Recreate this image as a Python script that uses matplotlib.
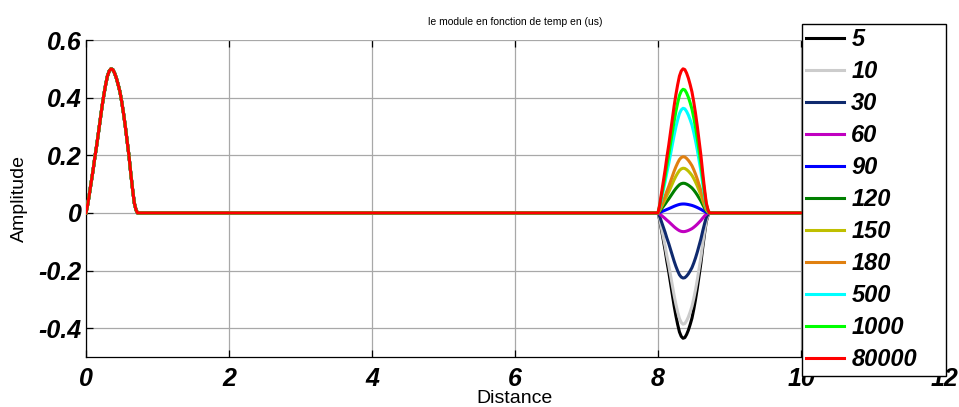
import numpy as np
import matplotlib
matplotlib.use("Agg")
import matplotlib.pyplot as plt

plt.rcParams['font.family'] = ['Liberation Sans', 'DejaVu Sans']
plt.rcParams['axes.unicode_minus'] = False

# pulse shape (offset from pulse start, amplitude / peak)
pulse_offset = [0.0, 0.025, 0.05, 0.075, 0.10, 0.125, 0.15, 0.175, 0.20, 0.225,
                0.25, 0.275, 0.30, 0.325, 0.35, 0.375, 0.40, 0.425, 0.45, 0.475,
                0.50, 0.525, 0.55, 0.575, 0.60, 0.625, 0.65, 0.675, 0.70, 0.72]
pulse_shape = [0.0, 0.06, 0.14, 0.22, 0.30, 0.39, 0.47, 0.56, 0.65, 0.74,
               0.82, 0.89, 0.95, 0.985, 1.0, 0.995, 0.97, 0.935, 0.89, 0.84,
               0.77, 0.69, 0.60, 0.50, 0.40, 0.28, 0.17, 0.07, 0.02, 0.0]

first_start = 0.0
first_peak = 0.5
second_start = 8.0
x_end = 12.0

labels = ['5', '10', '30', '60', '90', '120', '150', '180', '500', '1000', '80000']
second_peaks = [-0.435, -0.386, -0.226, -0.065, 0.031, 0.103, 0.155, 0.195, 0.363, 0.429, 0.50]
colors = ['black', '#cccccc', '#0f2a6e', '#c000c0', '#0000ff', '#007f00',
          '#bfbf00', '#e08010', '#00ffff', '#00ff00', '#ff0000']

fig = plt.figure(figsize=(9.59, 4.07), dpi=100)
ax = fig.add_axes([86 / 959, 50 / 407, 858 / 959, 317 / 407])

off = np.array(pulse_offset)
shape = np.array(pulse_shape)
for lab, pk, c in zip(labels, second_peaks, colors):
    x = np.concatenate([first_start + off, second_start + off, [x_end]])
    y = np.concatenate([first_peak * shape, pk * shape, [0.0]])
    ax.plot(x, y, color=c, lw=2.2, label=lab, zorder=3)

ax.set_xlim(0, 12)
ax.set_ylim(-0.5, 0.6)
ax.set_xticks(range(0, 13, 2))
ax.set_xticklabels([str(v) for v in range(0, 13, 2)])
ax.set_yticks([-0.4, -0.2, 0, 0.2, 0.4, 0.6])
ax.set_yticklabels(['-0.4', '-0.2', '0', '0.2', '0.4', '0.6'])
for t in ax.get_xticklabels() + ax.get_yticklabels():
    t.set_fontsize(18)
    t.set_fontweight('bold')
    t.set_fontstyle('italic')

ax.grid(True, color='#a8a8a8', lw=0.9, zorder=0)
ax.set_axisbelow(True)
ax.spines['top'].set_visible(False)
ax.spines['right'].set_visible(False)
ax.spines['left'].set_linewidth(0.9)
ax.spines['bottom'].set_linewidth(0.9)
ax.tick_params(direction='in', length=5, width=0.9, top=True)
ax.tick_params(axis='x', pad=7)
ax.tick_params(axis='y', pad=3)

ax.set_title('le module en fonction de temp en (us)', fontsize=7.5, pad=11)
ax.set_xlabel('Distance', fontsize=14)
ax.set_ylabel('Amplitude', fontsize=14)
ax.xaxis.set_label_coords(0.5, -0.105)
ax.yaxis.set_label_coords(-0.068, 0.5)

leg = fig.legend(loc='upper left', bbox_to_anchor=(801.7 / 959, 0.0, 144.3 / 959, 1 - 23.5 / 407),
                 mode='expand', borderaxespad=0, fancybox=False, framealpha=1,
                 edgecolor='black', handlelength=1.6, handletextpad=0.3,
                 borderpad=0.2, labelspacing=0.38,
                 prop={'size': 17, 'weight': 'bold', 'style': 'italic'})
leg.get_frame().set_linewidth(1.0)

fig.savefig('out.png', dpi=100)
